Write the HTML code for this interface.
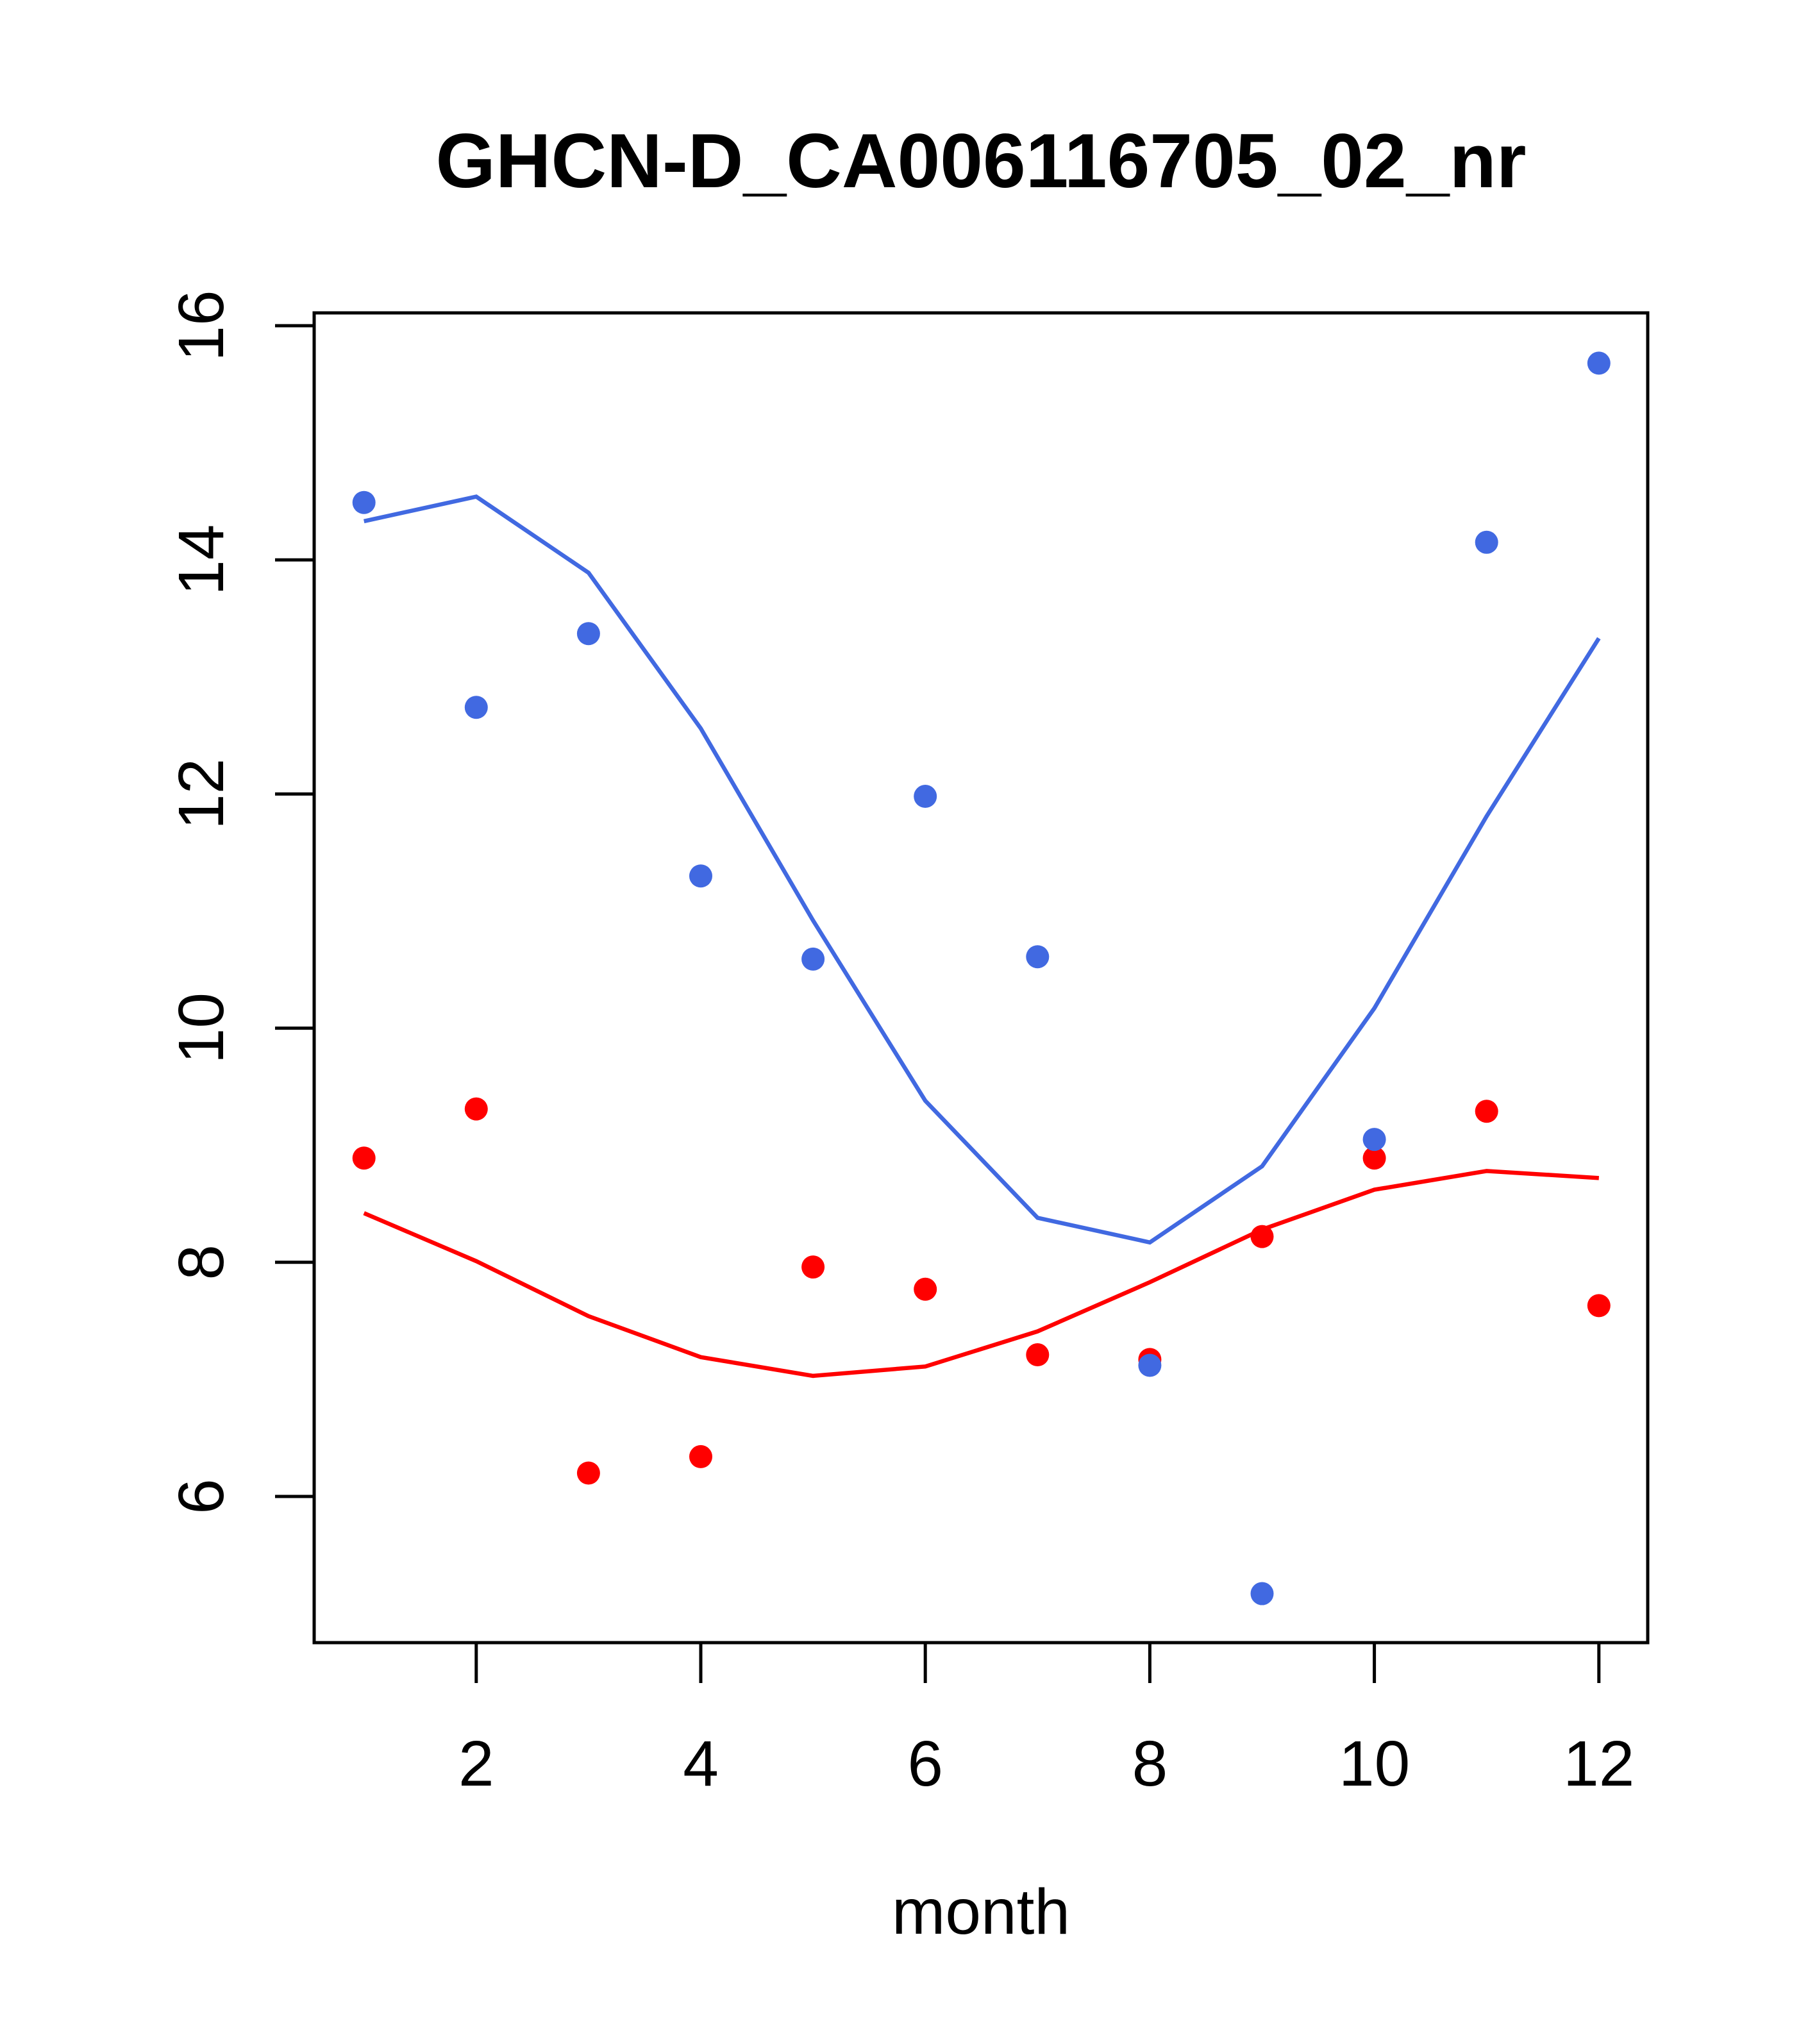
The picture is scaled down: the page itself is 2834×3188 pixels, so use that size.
<!DOCTYPE html>
<html><head><meta charset="utf-8"><style>
html,body{margin:0;padding:0;background:#fff}
svg{display:block}
text{font-family:"Liberation Sans",Arial,sans-serif;fill:#000}
</style></head><body>
<svg id="chart" width="2834" height="3188" viewBox="0 0 2834 3188" xmlns="http://www.w3.org/2000/svg">
<text x="1530" y="292" font-size="120" font-weight="bold" text-anchor="middle">GHCN-D_CA006116705_02_nr</text>
<rect x="490" y="488" width="2080" height="2074" fill="none" stroke="#000" stroke-width="5"/>
<g id="xaxis"></g>
<g id="yaxis"></g>
<text x="1530" y="3016" font-size="100" text-anchor="middle">month</text>
<g id="series"></g>
</svg>
<script>
const months=[1,2,3,4,5,6,7,8,9,10,11,12];
const bluePoints=[14.49,12.74,13.37,11.30,10.59,11.98,10.61,7.12,5.17,9.05,14.15,15.68];
const blueLine=[14.33,14.54,13.89,12.56,10.92,9.38,8.38,8.17,8.82,10.17,11.81,13.33];
const redPoints=[8.89,9.31,6.20,6.34,7.96,7.77,7.21,7.17,8.22,8.89,9.29,7.63];
const redLine=[8.42,8.01,7.54,7.19,7.03,7.11,7.41,7.83,8.28,8.62,8.78,8.72];
const xTicks=[2,4,6,8,10,12];
const yTicks=[6,8,10,12,14,16];
const NS="http://www.w3.org/2000/svg";
function xs(v){return 567.7+(v-1)*175.1;}
function ys(v){return 2334-(v-6)*182.6;}
function mk(tag,attrs,parent){const e=document.createElementNS(NS,tag);for(const k in attrs)e.setAttribute(k,attrs[k]);parent.appendChild(e);return e;}
const xa=document.getElementById('xaxis'),ya=document.getElementById('yaxis'),sr=document.getElementById('series');
xTicks.forEach(t=>{
 const l=mk('line',{x1:xs(t),x2:xs(t),y1:2562,y2:2625,stroke:'#000','stroke-width':5},xa);
 
 
 const tx=mk('text',{x:xs(t),y:2785,'font-size':100,'text-anchor':'middle'},xa);tx.textContent=t;
 
 
});
yTicks.forEach(t=>{
 const l=mk('line',{x1:429,x2:490,y1:ys(t),y2:ys(t),stroke:'#000','stroke-width':5},ya);
 
 
 const tx=mk('text',{x:348,y:ys(t),'font-size':100,'text-anchor':'middle',transform:`rotate(-90 348 ${ys(t)})`},ya);tx.textContent=t;
 
 
});
function line(vals,color,name){
 const p=mk('polyline',{points:vals.map((v,i)=>xs(months[i])+','+ys(v)).join(' '),fill:'none',stroke:color,'stroke-width':6.5},sr);
 
 
}
function pts(vals,color,name){
 vals.forEach((v,i)=>{
  const c=mk('circle',{cx:xs(months[i]),cy:ys(v),r:18,fill:color},sr);
  
  
 });
}
line(blueLine,'#4169E1','blue-fit-line');
line(redLine,'#FF0000','red-fit-line');
pts(redPoints,'#FF0000','red-point');
pts(bluePoints,'#4169E1','blue-point');
</script>
</body></html>
